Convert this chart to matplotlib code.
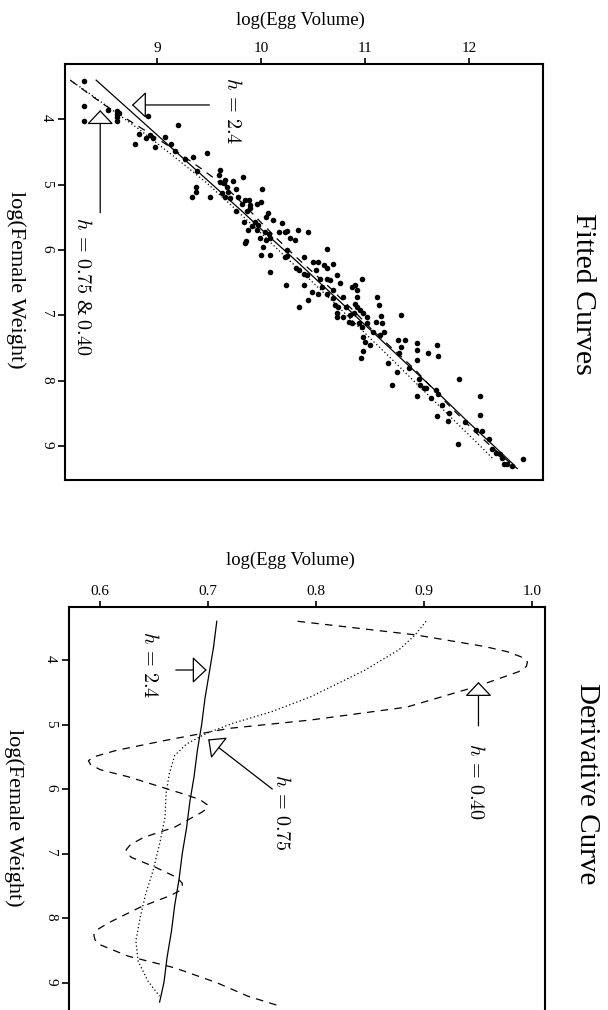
import matplotlib
matplotlib.use("Agg")
import matplotlib.pyplot as plt
import numpy as np

plt.rcParams["font.family"] = ["Liberation Serif", "DejaVu Serif"]
plt.rcParams["mathtext.fontset"] = "cm"

# observed data: log(Egg Volume) vs log(Female Weight)
egg = [8.29, 8.29, 8.29, 8.52, 8.61, 8.61, 8.61, 8.61, 8.63, 8.91, 9.20, 8.82, 8.89, 8.93, 8.96,
       8.98, 8.78, 9.07, 9.13, 9.17,
       9.27, 9.34, 9.48, 9.38, 9.37, 9.37, 9.33, 9.51, 9.60, 9.59, 9.60, 9.64, 9.65, 9.67,
       9.68, 9.62, 9.65, 9.70, 9.73, 9.76, 9.82, 9.78, 9.76, 9.81, 9.84, 9.88, 9.89, 9.86,
       9.89, 9.96, 10.00, 10.01, 10.06, 10.05, 10.11, 9.83, 9.87, 9.84, 9.85, 9.91, 9.94,
       9.96, 9.97, 9.99, 10.04, 10.07, 10.05, 10.08, 10.02, 10.00, 10.08, 10.17, 10.20, 10.23,
       10.25, 10.28, 10.32, 10.35, 10.45, 10.23, 10.25, 10.25, 10.08, 10.24, 10.33, 10.36,
       10.41, 10.41, 10.44, 10.41, 10.50, 10.55, 10.53, 10.60, 10.63, 10.63, 10.69, 10.57,
       10.63, 10.66, 10.58, 10.45, 10.49, 10.55, 10.63, 10.36, 10.69, 10.73, 10.76, 10.69,
       10.71, 10.73, 10.74, 10.79, 10.82, 10.87, 10.90, 10.92, 10.92, 10.97, 10.90, 10.92,
       10.95, 10.98, 11.02, 10.89, 10.84, 10.87, 10.94, 10.97, 11.02, 11.11, 11.13, 11.15,
       11.10, 11.16, 11.18, 11.14, 10.98, 11.00, 11.05, 11.08, 11.35, 11.32, 11.38, 11.35,
       10.73, 10.79, 10.85,
       10.96, 10.98, 11.22, 11.26, 11.31, 11.33, 11.42,
       11.50, 11.50, 11.50, 11.52, 11.53, 11.57, 11.59, 11.61, 11.68, 11.69, 11.70, 11.50, 11.63,
       11.70, 11.74, 11.69, 11.80, 11.81, 11.89, 11.90, 12.11, 12.11, 12.13, 12.22, 12.26, 12.30,
       12.32, 12.34, 12.37, 12.41, 12.52, 12.19, 12.07, 11.96]
weight = [3.41, 3.80, 4.02, 3.85, 3.87, 3.92, 3.97, 4.03, 3.90, 3.95, 4.09, 4.23, 4.29, 4.24, 4.29,
          4.42, 4.37, 4.27, 4.37, 4.49,
          4.61, 4.57, 4.51, 4.79, 5.04, 5.11, 5.19, 5.19, 4.78, 4.85, 4.96, 4.98, 4.93, 5.03,
          5.11, 5.13, 5.19, 5.21, 4.94, 5.07, 4.89, 5.19, 5.40, 5.29, 5.24, 5.24, 5.31, 5.41,
          5.36, 5.29, 5.26, 5.07, 5.43, 5.49, 5.54, 5.57, 5.70, 5.90, 5.86, 5.64, 5.57,
          5.70, 5.62, 5.82, 5.72, 5.75, 5.85, 5.82, 5.95, 6.08, 6.08, 5.72, 5.59, 5.72,
          5.71, 5.82, 5.85, 5.70, 5.72, 6.10, 6.00, 6.09, 6.33, 6.54, 6.28, 6.31,
          6.10, 6.36, 6.38, 6.54, 6.18, 6.18, 6.31, 6.23, 6.28, 5.98, 6.22, 6.44,
          6.44, 6.46, 6.56, 6.77, 6.64, 6.67, 6.68, 6.87, 6.61, 6.38, 6.51, 6.74,
          6.84, 6.97, 6.87, 6.72, 6.87, 6.56, 6.54, 6.61, 6.72, 6.44, 6.82, 6.87,
          6.92, 6.97, 7.02, 6.97, 7.10, 7.12, 7.12, 7.18, 7.12, 6.72, 6.84, 7.01,
          7.10, 7.12, 7.25, 7.30, 7.33, 7.41, 7.46, 7.25, 7.00, 7.38, 7.38, 7.48,
          7.02, 7.02, 7.00,
          7.65, 7.55, 7.73, 8.06, 7.86, 7.58, 7.81,
          7.43, 7.53, 7.68, 7.98, 8.06, 8.11, 8.11, 7.58, 8.14, 7.45, 7.63, 8.24, 8.26,
          8.21, 8.37, 8.54, 8.62, 8.49, 8.97, 7.98, 8.24, 8.52, 8.77, 9.05, 9.10, 9.13,
          9.18, 9.28, 9.28, 9.30, 9.20, 8.90, 8.75, 8.64]

# h = 2.4
w_24 = [3.40, 3.80, 4.20, 4.60, 5.00, 5.40, 5.80, 6.20, 6.60, 7.00, 7.40, 7.80, 8.20, 8.60, 9.00, 9.30]
fit_24 = [8.41, 8.69, 8.97, 9.25, 9.53, 9.81, 10.08, 10.36, 10.63, 10.90, 11.17, 11.44, 11.71, 11.97, 12.24, 12.44]
deriv_24 = [0.708, 0.705, 0.701, 0.697, 0.694, 0.690, 0.687, 0.683, 0.680, 0.676, 0.673, 0.669, 0.666, 0.662, 0.659, 0.655]

# h = 0.75
w_075 = [3.40, 3.61, 3.84, 4.16, 4.57, 4.80, 4.98, 5.14, 5.30, 5.48, 5.76, 6.07, 6.44, 6.85, 7.26, 7.63,
         7.99, 8.35, 8.66, 8.97, 9.21]
fit_075 = [8.16, 8.35, 8.55, 8.83, 9.16, 9.34, 9.48, 9.59, 9.70, 9.82, 10.01, 10.21, 10.46, 10.73, 10.99, 11.23,
           11.46, 11.69, 11.89, 12.09, 12.24]
deriv_075 = [0.902, 0.892, 0.877, 0.845, 0.795, 0.759, 0.723, 0.698, 0.680, 0.669, 0.664, 0.661, 0.660, 0.655,
             0.649, 0.642, 0.637, 0.633, 0.635, 0.644, 0.655]

# h = 0.40
w_040_fit = [3.40, 3.61, 3.79, 3.95, 4.03, 4.18, 4.41, 4.73, 4.93, 5.06, 5.24, 5.40, 5.55, 5.66, 5.81, 6.07,
             6.23, 6.36, 6.59, 6.75, 6.93, 7.06, 7.21, 7.37, 7.52, 7.65, 7.83, 8.07, 8.25, 8.40, 8.59, 8.77,
             9.00, 9.21, 9.35]
fit_040 = [8.16, 8.34, 8.50, 8.66, 8.74, 8.89, 9.11, 9.40, 9.57, 9.67, 9.79, 9.89, 9.98, 10.05, 10.14, 10.31,
           10.42, 10.51, 10.67, 10.77, 10.89, 10.97, 11.06, 11.17, 11.27, 11.36, 11.48, 11.62, 11.73, 11.82,
           11.94, 12.05, 12.21, 12.36, 12.47]
w_040 = [3.40, 3.61, 3.79, 3.87, 3.95, 4.03, 4.10, 4.18, 4.41, 4.73, 4.93, 5.06, 5.24, 5.40, 5.50, 5.56,
         5.62, 5.70, 5.81, 6.07, 6.16, 6.24, 6.30, 6.36, 6.59, 6.75, 6.86, 6.94, 7.00, 7.06, 7.21, 7.37,
         7.46, 7.53, 7.58, 7.65, 7.83, 8.07, 8.18, 8.26, 8.33, 8.40, 8.59, 8.77, 9.00, 9.21, 9.35]
deriv_040 = [0.783, 0.892, 0.956, 0.977, 0.990, 0.996, 0.995, 0.988, 0.949, 0.884, 0.795, 0.719, 0.662, 0.615,
             0.594, 0.589, 0.591, 0.600, 0.626, 0.676, 0.692, 0.699, 0.699, 0.694, 0.669, 0.640, 0.628, 0.624,
             0.625, 0.629, 0.651, 0.671, 0.676, 0.676, 0.673, 0.665, 0.637, 0.608, 0.597, 0.594, 0.595, 0.598,
             0.626, 0.669, 0.708, 0.737, 0.764]

W, H = 608, 1010
fig = plt.figure(figsize=(W / 100, H / 100), dpi=100)
ax1 = fig.add_axes([65 / W, 1 - 480.3 / H, (542.7 - 65) / W, (480.3 - 64) / H])
ax2 = fig.add_axes([69 / W, 1 - 1022.7 / H, (544.7 - 69) / W, (1022.7 - 606.7) / H])

dash = (0, (6, 5))
dot = (0, (1, 2))
arrow = dict(arrowstyle="-|>,head_length=0.9,head_width=0.85", fc="white", ec="black",
             lw=0.9, shrinkA=0, shrinkB=0, mutation_scale=10)
htxt = dict(rotation=-90, ha="center", va="center", fontsize=14.5)

# --- top panel: fitted curves
ax1.scatter(egg, weight, s=16, color="black", lw=0)
ax1.plot(fit_24, w_24, color="black", lw=0.9)
ax1.plot(fit_075, w_075, color="black", lw=0.9, ls=dot)
ax1.plot(fit_040, w_040_fit, color="black", lw=0.9, ls=dash)
ax1.set_xlim(8.11, 12.71)
ax1.set_ylim(9.525, 3.153)
ax1.set_xticks([9, 10, 11, 12])
ax1.annotate("", xy=(8.754, 3.78), xytext=(9.50, 3.78), arrowprops=arrow)
ax1.annotate("", xy=(8.449, 3.858), xytext=(8.449, 5.43), arrowprops=arrow)
ax1.text(9.716, 3.865, r"$h\,=\,2.4$", **htxt)
ax1.text(8.272, 6.56, r"$h\,=\,0.75$ & $0.40$", **htxt)

# --- bottom panel: derivative curves
ax2.plot(deriv_24, w_24, color="black", lw=0.9)
ax2.plot(deriv_075, w_075, color="black", lw=0.9, ls=dot)
ax2.plot(deriv_040, w_040, color="black", lw=0.9, ls=dash)
ax2.set_xlim(0.571, 1.012)
ax2.set_ylim(9.62, 3.174)
ax2.set_xticks([0.6, 0.7, 0.8, 0.9, 1.0])
ax2.set_xticklabels(["0.6", "0.7", "0.8", "0.9", "1.0"])
ax2.annotate("", xy=(0.6987, 4.155), xytext=(0.670, 4.155), arrowprops=arrow)
ax2.annotate("", xy=(0.700, 5.23), xytext=(0.7595, 6.00), arrowprops=arrow)
ax2.annotate("", xy=(0.9506, 4.34), xytext=(0.9506, 5.02), arrowprops=arrow)
ax2.text(0.645, 4.08, r"$h\,=\,2.4$", **htxt)
ax2.text(0.767, 6.36, r"$h\,=\,0.75$", **htxt)
ax2.text(0.947, 5.89, r"$h\,=\,0.40$", **htxt)

for ax in (ax1, ax2):
    ax.set_yticks([4, 5, 6, 7, 8, 9])
    ax.xaxis.tick_top()
    ax.tick_params(axis="x", direction="out", length=4, width=1.2, labelsize=11, pad=2.5)
    ax.tick_params(axis="y", direction="out", length=5, width=1.2, labelsize=11, pad=3.5,
                   labelrotation=-90)
    for sp in ax.spines.values():
        sp.set_linewidth(1.5)

fig.text(300 / W, 1 - 20 / H, "log(Egg Volume)", ha="center", va="center", fontsize=13.5)
fig.text(290 / W, 1 - 560 / H, "log(Egg Volume)", ha="center", va="center", fontsize=13.5)
fig.text(16 / W, 1 - 280 / H, "log(Female Weight)", rotation=-90, ha="center", va="center", fontsize=16)
fig.text(14 / W, 1 - 818 / H, "log(Female Weight)", rotation=-90, ha="center", va="center", fontsize=16)
fig.text(583 / W, 1 - 294 / H, "Fitted Curves", rotation=-90, ha="center", va="center", fontsize=21.5)
fig.text(587 / W, 1 - 784 / H, "Derivative Curve", rotation=-90, ha="center", va="center", fontsize=21)

fig.savefig("out.png", dpi=100)
